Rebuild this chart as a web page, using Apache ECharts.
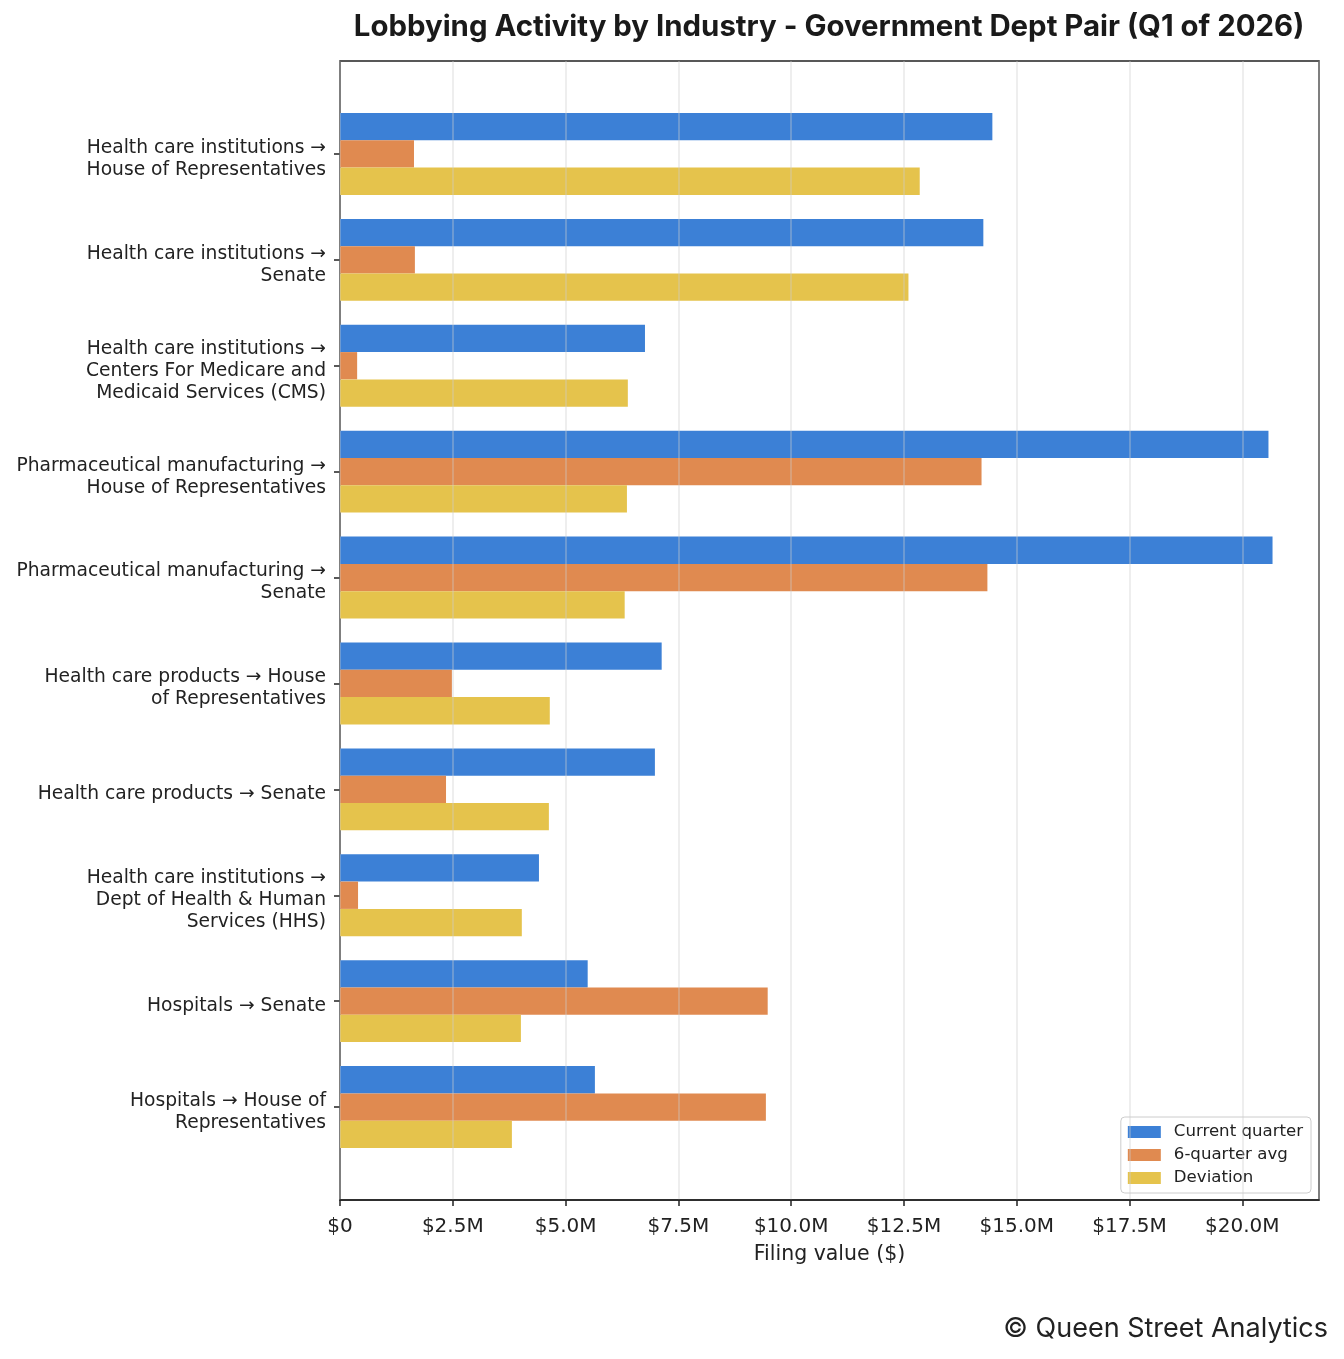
<!DOCTYPE html>
<html>
<head>
<meta charset="utf-8">
<script src="https://cdn.jsdelivr.net/npm/echarts@6/dist/echarts.min.js"></script>
<style>
html, body { margin: 0; padding: 0; background: #fff; }
#chart { width: 1344px; height: 1359px; }
</style>
</head>
<body>
<div id="chart"></div>
<script>
// categories, top to bottom
var categories = [
    'Health care institutions →\nHouse of Representatives',
    'Health care institutions →\nSenate',
    'Health care institutions →\nCenters For Medicare and\nMedicaid Services (CMS)',
    'Pharmaceutical manufacturing →\nHouse of Representatives',
    'Pharmaceutical manufacturing →\nSenate',
    'Health care products → House\nof Representatives',
    'Health care products → Senate',
    'Health care institutions →\nDept of Health & Human\nServices (HHS)',
    'Hospitals → Senate',
    'Hospitals → House of\nRepresentatives'
];
// values in $M
var currentQuarter = [14.46, 14.26, 6.76, 20.58, 20.67, 7.13, 6.98, 4.41, 5.49, 5.65];
var sixQuarterAvg = [1.64, 1.66, 0.38, 14.22, 14.35, 2.48, 2.35, 0.40, 9.48, 9.44];
var deviation = [12.85, 12.60, 6.38, 6.36, 6.31, 4.65, 4.63, 4.03, 4.01, 3.81];
var seriesNames = ['Current quarter', '6-quarter avg', 'Deviation'];
var colors = ['#3c80d6', '#e08a50', '#e5c34c'];
var xMax = 21.7;

var myChart = echarts.init(document.getElementById('chart'));

var fmtMoney = function (v) {
    if (v === 0) return '$0';
    return '$' + v.toFixed(1) + 'M';
};

var barSeries = [currentQuarter, sixQuarterAvg, deviation].map(function (d, i) {
    return {
        name: seriesNames[i],
        type: 'bar',
        xAxisIndex: 1,
        yAxisIndex: 1,
        barWidth: 27.3,
        barGap: '0%',
        itemStyle: { color: colors[i] },
        emphasis: { disabled: true },
        data: d
    };
});

var option = {
    animation: false,
    textStyle: { fontFamily: 'DejaVu Sans' },
    graphic: [
        {
            type: 'text', x: 829, y: 27,
            style: {
                text: 'Lobbying Activity by Industry - Government Dept Pair (Q1 of 2026)',
                font: 'bold 29.4px Inter', fill: '#1a1a1a',
                textAlign: 'center', textVerticalAlign: 'middle'
            }
        },
        {
            type: 'text', x: 1328, y: 1329,
            style: {
                text: '© Queen Street Analytics',
                font: '27px Inter', fill: '#222',
                textAlign: 'right', textVerticalAlign: 'middle'
            }
        }
    ],
    legend: {
        data: seriesNames,
        orient: 'vertical',
        right: 33,
        top: 1117,
        itemWidth: 33,
        itemHeight: 12,
        itemGap: 6,
        icon: 'rect',
        padding: [6.5, 8, 6.5, 7],
        backgroundColor: 'rgba(255,255,255,0.8)',
        borderColor: '#cccccc',
        borderWidth: 1,
        borderRadius: 4,
        textStyle: { fontFamily: 'DejaVu Sans', fontSize: 16.6, color: '#222', padding: [0, 0, 0, 8] }
    },
    grid: [
        { left: 340, top: 61, width: 979, height: 1139, show: true, borderColor: '#222', borderWidth: 1.5, backgroundColor: 'transparent' },
        { left: 340, top: 101, width: 979, height: 1059 }
    ],
    xAxis: [
        {
            type: 'value', gridIndex: 0, min: 0, max: xMax, interval: 2.5, z: 5,
            name: 'Filing value ($)', nameLocation: 'middle', nameGap: 44,
            nameTextStyle: { fontFamily: 'DejaVu Sans', fontSize: 20.5, color: '#222' },
            axisLine: { show: true, lineStyle: { color: '#222', width: 1.5 } },
            axisTick: { show: true, length: 6, lineStyle: { color: '#222', width: 1.5 } },
            axisLabel: { formatter: fmtMoney, fontSize: 20, color: '#222', margin: 17, showMaxLabel: false },
            splitLine: { show: true, lineStyle: { color: 'rgba(204,204,204,0.45)', width: 1.5 } }
        },
        {
            type: 'value', gridIndex: 1, min: 0, max: xMax, show: false
        }
    ],
    yAxis: [
        { type: 'value', gridIndex: 0, min: 0, max: 1, show: false },
        {
            type: 'category', gridIndex: 1, inverse: true, data: categories,
            axisLine: { show: false },
            axisTick: { show: true, alignWithLabel: true, length: 6, lineStyle: { color: '#222', width: 1.5 } },
            axisLabel: {
                fontSize: 18.7, color: '#222', lineHeight: 22, margin: 14, align: 'right',
                // small empty first line nudges the text block a little below the tick
                formatter: function (v) { return '{gap|}\n' + v; },
                rich: { gap: { fontSize: 1, lineHeight: 10 } }
            },
            splitLine: { show: false }
        }
    ],
    series: barSeries
};
myChart.setOption(option);
</script>
</body>
</html>
